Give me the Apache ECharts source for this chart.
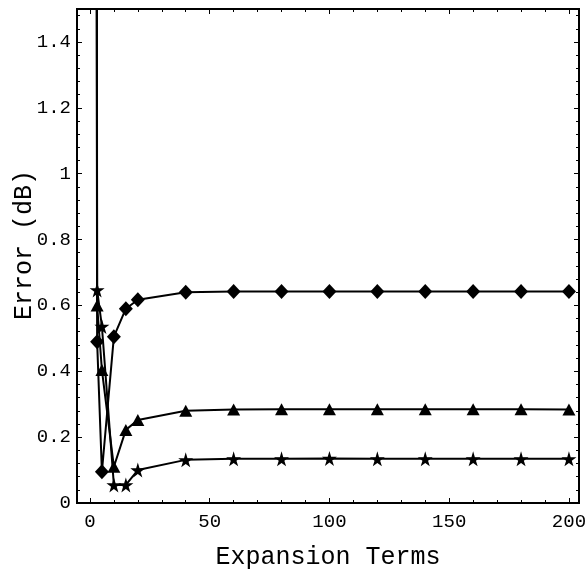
<!DOCTYPE html>
<html>
<head>
<meta charset="utf-8">
<script src="https://cdn.jsdelivr.net/npm/echarts@6/dist/echarts.min.js"></script>
<style>html,body{margin:0;padding:0;background:#fff}#c{width:585px;height:573px}</style>
</head>
<body>
<div id="c"></div>
<script>
// Data
const xTerms = [1, 3, 5, 10, 15, 20, 40, 60, 80, 100, 120, 140, 160, 180, 200];
const diamondErr = [12, 0.49, 0.095, 0.505, 0.59, 0.617, 0.64, 0.642, 0.642, 0.642, 0.642, 0.642, 0.642, 0.642, 0.642];
const triangleErr = [18, 0.60, 0.404, 0.11, 0.222, 0.252, 0.28, 0.284, 0.285, 0.285, 0.285, 0.285, 0.285, 0.285, 0.284];
const starErr = [25, 0.647, 0.536, 0.055, 0.055, 0.10, 0.131, 0.134, 0.134, 0.135, 0.134, 0.134, 0.134, 0.134, 0.134];

const xMajor = [0, 50, 100, 150, 200];
const xMinor = [10, 20, 30, 40, 60, 70, 80, 90, 110, 120, 130, 140, 160, 170, 180, 190];
const yMajor = [0, 0.2, 0.4, 0.6, 0.8, 1, 1.2, 1.4];
const yMinor = [0.04, 0.08, 0.12, 0.16, 0.24, 0.28, 0.32, 0.36, 0.44, 0.48, 0.52, 0.56, 0.64, 0.68, 0.72, 0.76,
  0.84, 0.88, 0.92, 0.96, 1.04, 1.08, 1.12, 1.16, 1.24, 1.28, 1.32, 1.36, 1.44, 1.48];

const FONT = 'Liberation Mono';
const X_MIN = -5.4, X_MAX = 204.2, Y_MIN = 0, Y_MAX = 1.5;

function pairs(ys) { return xTerms.map((x, i) => [x, ys[i]]); }

function axis(kind, position, ticks, len, withLabels) {
  return {
    type: 'value',
    position: position,
    min: kind === 'x' ? X_MIN : Y_MIN,
    max: kind === 'x' ? X_MAX : Y_MAX,
    axisLine: { show: false, onZero: false },
    splitLine: { show: false },
    axisTick: { show: true, inside: true, length: len, customValues: ticks, lineStyle: { color: '#000', width: 1 } },
    axisLabel: withLabels ? {
      show: true, customValues: ticks, color: '#000', fontFamily: FONT, fontSize: 19,
      margin: kind === 'x' ? 9 : 6
    } : { show: false }
  };
}

const xA = axis('x', 'bottom', xMajor, 5, true);
xA.name = 'Expansion Terms';
xA.nameLocation = 'middle';
xA.nameGap = 42;
xA.nameMoveOverlap = false;
xA.nameTextStyle = { color: '#000', fontFamily: FONT, fontSize: 25 };

const yA = axis('y', 'left', yMajor, 5, true);
yA.name = 'Error (dB)';
yA.nameLocation = 'middle';
yA.nameGap = 40;
yA.nameMoveOverlap = false;
yA.nameTextStyle = { color: '#000', fontFamily: FONT, fontSize: 25, padding: [0, 0, 0, 22] };

const starPath = 'path://M50,0 L61,35 L98,35 L68,57 L79,91 L50,70 L21,91 L32,57 L2,35 L39,35 Z';

function series(name, ys, symbol, size) {
  return {
    name: name, type: 'line', xAxisIndex: 0, yAxisIndex: 0,
    data: pairs(ys), symbol: symbol, symbolSize: size, showAllSymbol: true,
    clip: true, animation: false,
    lineStyle: { color: '#000', width: 2 },
    itemStyle: { color: '#000', borderWidth: 0 }
  };
}

const chart = echarts.init(document.getElementById('c'), null, { renderer: 'canvas' });
chart.setOption({
  backgroundColor: '#fff',
  animation: false,
  grid: {
    left: 77, right: 6, top: 9, bottom: 70,
    containLabel: false, outerBoundsMode: 'none',
    show: true, borderColor: '#000', borderWidth: 2, backgroundColor: 'transparent'
  },
  xAxis: [
    xA,
    axis('x', 'bottom', xMinor, 3, false),
    axis('x', 'top', xMajor, 5, false),
    axis('x', 'top', xMinor, 3, false)
  ],
  yAxis: [
    yA,
    axis('y', 'left', yMinor, 3, false),
    axis('y', 'right', yMajor, 5, false),
    axis('y', 'right', yMinor, 3, false)
  ],
  series: [
    series('diamond', diamondErr, 'diamond', [14, 15]),
    series('triangle', triangleErr, 'triangle', [13, 12]),
    series('star', starErr, starPath, [15, 15])
  ]
});
</script>
</body>
</html>
